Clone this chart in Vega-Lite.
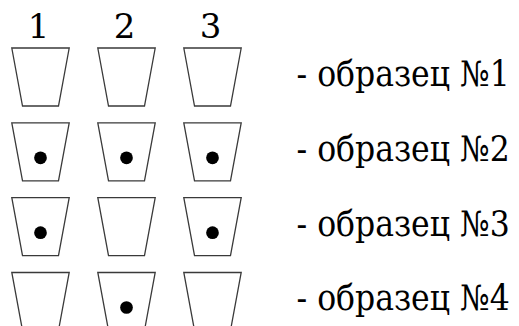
{
  "$schema": "https://vega.github.io/schema/vega-lite/v6.json",
  "width": 519,
  "height": 326,
  "padding": 0,
  "autosize": {"type": "none"},
  "background": "white",
  "config": {"view": {"stroke": null}},
  "datasets": {
    "cups": [
      {"row": 1, "col": 1, "dot": false},
      {"row": 1, "col": 2, "dot": false},
      {"row": 1, "col": 3, "dot": false},
      {"row": 2, "col": 1, "dot": true},
      {"row": 2, "col": 2, "dot": true},
      {"row": 2, "col": 3, "dot": true},
      {"row": 3, "col": 1, "dot": true},
      {"row": 3, "col": 2, "dot": false},
      {"row": 3, "col": 3, "dot": true},
      {"row": 4, "col": 1, "dot": false},
      {"row": 4, "col": 2, "dot": true},
      {"row": 4, "col": 3, "dot": false}
    ],
    "samples": [
      {"row": 1, "col": 4, "label": "- образец №1"},
      {"row": 2, "col": 4, "label": "- образец №2"},
      {"row": 3, "col": 4, "label": "- образец №3"},
      {"row": 4, "col": 4, "label": "- образец №4"}
    ],
    "header": [
      {"row": 0, "col": 1, "label": "1"},
      {"row": 0, "col": 2, "label": "2"},
      {"row": 0, "col": 3, "label": "3"}
    ]
  },
  "encoding": {
    "x": {"field": "col", "type": "quantitative", "axis": null, "scale": {"domain": [0.52907, 6.56395], "nice": false, "zero": false}},
    "y": {"field": "row", "type": "quantitative", "axis": null, "scale": {"domain": [-0.029, 4.3275], "reverse": true, "nice": false, "zero": false}}
  },
  "layer": [
    {
      "data": {"name": "cups"},
      "mark": {"type": "point", "shape": "M-0.99,-1L0.99,-1L0.62,1L-0.62,1Z", "size": 3364, "filled": false, "stroke": "#3a3a3a", "strokeWidth": 1.3, "opacity": 1}
    },
    {
      "data": {"name": "cups"},
      "transform": [{"filter": "datum.dot"}],
      "mark": {"type": "point", "shape": "circle", "size": 161, "filled": true, "color": "black", "opacity": 1, "yOffset": 6}
    },
    {
      "data": {"name": "samples"},
      "mark": {"type": "text", "align": "left", "baseline": "alphabetic", "font": "DejaVu Serif Condensed", "fontSize": 35, "color": "black", "dx": -2, "dy": 9},
      "encoding": {"text": {"field": "label"}}
    },
    {
      "data": {"name": "header"},
      "mark": {"type": "text", "align": "center", "baseline": "alphabetic", "font": "DejaVu Serif", "fontSize": 34, "color": "black", "dx": -2, "dy": 36},
      "encoding": {"text": {"field": "label"}}
    }
  ]
}
